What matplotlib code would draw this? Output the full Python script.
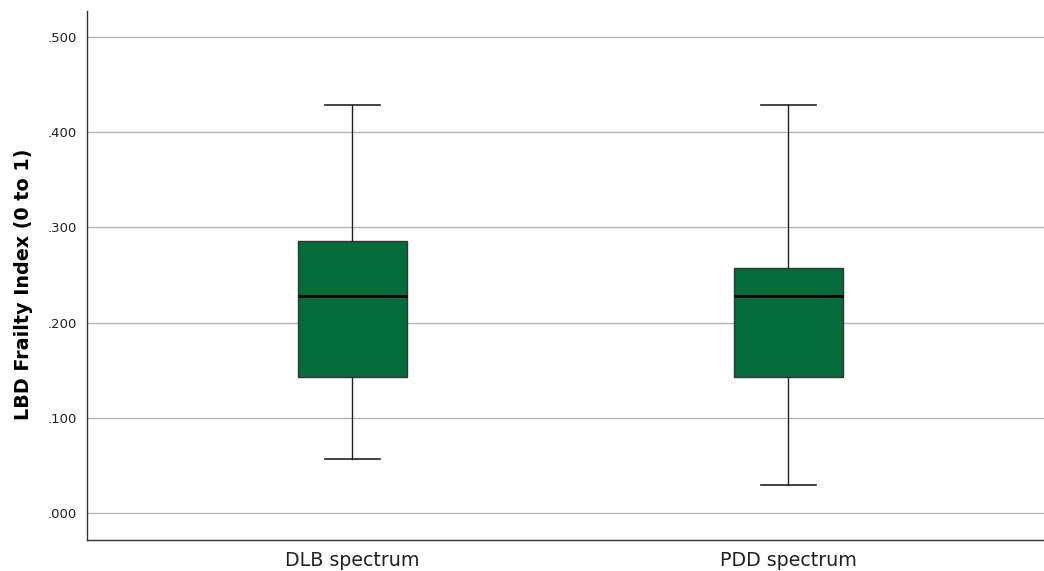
import matplotlib
matplotlib.use('Agg')
import matplotlib.pyplot as plt

groups = ['DLB spectrum', 'PDD spectrum']
whislo = [0.057, 0.029]
q1 = [0.143, 0.143]
med = [0.228, 0.228]
q3 = [0.286, 0.257]
whishi = [0.429, 0.429]

yticks = [0.0, 0.1, 0.2, 0.3, 0.4, 0.5]
ytick_labels = ['.000', '.100', '.200', '.300', '.400', '.500']

stats = []
for i in range(len(groups)):
    stats.append({'label': groups[i], 'whislo': whislo[i], 'q1': q1[i],
                  'med': med[i], 'q3': q3[i], 'whishi': whishi[i], 'fliers': []})

fig = plt.figure(figsize=(10.44, 5.71), dpi=100)
ax = fig.add_axes([0.0833, 0.0543, 0.9167, 0.9264])

ax.bxp(stats, positions=[1, 2], widths=0.25, patch_artist=True, showfliers=False,
       boxprops=dict(facecolor='#046c3b', edgecolor='#333333', linewidth=1),
       medianprops=dict(color='black', linewidth=2),
       whiskerprops=dict(color='#222222', linewidth=1),
       capprops=dict(color='#222222', linewidth=1.2), capwidths=0.126)

ax.set_xlim(0.392, 2.587)
ax.set_ylim(-0.0284, 0.5273)
ax.set_yticks(yticks)
ax.set_yticklabels(ytick_labels, fontsize=9.5)
ax.set_xticks([1, 2])
ax.set_xticklabels(groups, fontsize=13.7)
ax.tick_params(axis='both', length=0, colors='#222222')
ax.tick_params(axis='y', pad=7)
ax.tick_params(axis='x', pad=8)
ax.yaxis.grid(True, color='#b4b4b4', linewidth=1)
ax.set_axisbelow(True)
for s in ['top', 'right']:
    ax.spines[s].set_visible(False)
for s in ['left', 'bottom']:
    ax.spines[s].set_color('#333333')
    ax.spines[s].set_linewidth(1)
ax.set_ylabel('LBD Frailty Index (0 to 1)', fontsize=13.8, fontweight='bold')
ax.yaxis.set_label_coords(-0.0565, 0.484)

fig.savefig('out.png', dpi=100)
